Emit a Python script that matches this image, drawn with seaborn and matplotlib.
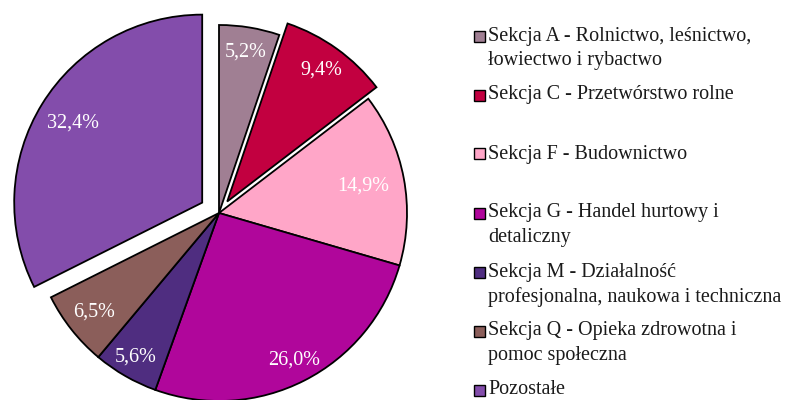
import numpy as np
import matplotlib.pyplot as plt
import matplotlib.patches as mpatches
import seaborn as sns

# data
categories = [
    "Sekcja A - Rolnictwo, leśnictwo,\nłowiectwo i rybactwo",
    "Sekcja C - Przetwórstwo rolne",
    "Sekcja F - Budownictwo",
    "Sekcja G - Handel hurtowy i\ndetaliczny",
    "Sekcja M - Działalność\nprofesjonalna, naukowa i techniczna",
    "Sekcja Q - Opieka zdrowotna i\npomoc społeczna",
    "Pozostałe",
]
shares = [5.2, 9.4, 14.9, 26.0, 5.6, 6.5, 32.4]
colors = ["#a07f93", "#c20040", "#ffa6c8", "#b0069b", "#4f2d80", "#8b5e5a", "#834dab"]
explode_frac = [0, 0.075, 0, 0, 0, 0, 0.105]
label_dist = [0.867, 0.86, 0.78, 0.88, 0.885, 0.85, 0.81]

sns.set_theme(style="white")
plt.rcParams['font.family'] = ['Liberation Serif', 'DejaVu Serif']

W, H = 789, 400
fig = plt.figure(figsize=(W / 100, H / 100), dpi=100)
ax = fig.add_axes([0, 0, 1, 1])

cx, cy, r = 219, H - 213, 188
wedges, _ = ax.pie(
    shares,
    colors=colors,
    startangle=90,
    counterclock=False,
    radius=r,
    center=(cx, cy),
    explode=[e * r for e in explode_frac],
    wedgeprops=dict(edgecolor='black', linewidth=1.3),
)
ax.set_xlim(0, W)
ax.set_ylim(0, H)
ax.set_aspect('equal')
ax.axis('off')

# percent labels
for w, v, d in zip(wedges, shares, label_dist):
    ang = np.deg2rad((w.theta1 + w.theta2) / 2)
    x0, y0 = w.center
    ax.text(x0 + d * r * np.cos(ang), y0 + d * r * np.sin(ang),
            f"{v:.1f}%".replace('.', ','), ha='center', va='center',
            color='white', fontsize=14.5)

# legend (Excel-like: handle aligned with first line, equal entry height)
step = 59
for i, (lab, w) in enumerate(zip(categories, wedges)):
    yc = 36 + i * step
    fig.patches.append(mpatches.Rectangle(
        (474 / W, 1 - (yc + 5.5) / H), 11 / W, 11 / H,
        transform=fig.transFigure, facecolor=w.get_facecolor(),
        edgecolor='black', linewidth=1.0))
    fig.text(488 / W, 1 - (yc - 9.5) / H, lab, ha='left', va='top',
             fontsize=14.5, linespacing=1.4, color='#1a1a1a')

fig.savefig('out.png', dpi=100)
